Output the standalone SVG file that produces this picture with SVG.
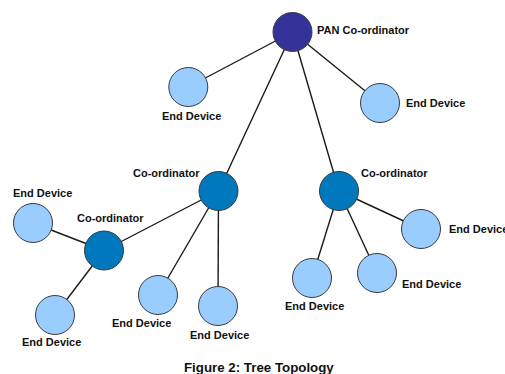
<svg xmlns="http://www.w3.org/2000/svg" width="505" height="374" viewBox="0 0 505 374">
  <style>
    .link { stroke: #1a1a1a; stroke-width: 1.4; fill: none; }
    .node { stroke: #3a3a3a; stroke-width: 1; }
    .pan { fill: #333399; }
    .coord { fill: #0078BD; }
    .end { fill: #99CCFF; }
    .lbl { font-family: "Liberation Sans", Arial, sans-serif; font-weight: bold; font-size: 11px; fill: #111; }
    .cap { font-family: "Liberation Sans", Arial, sans-serif; font-weight: bold; font-size: 13.3px; fill: #111; }
  </style>
  <rect width="505" height="374" fill="#ffffff"/>

  <!-- tree links, drawn centre to centre beneath the nodes -->
  <g id="connectors">
    <line class="link" x1="292.5" y1="32" x2="188.3" y2="87"/>
    <line class="link" x1="292.5" y1="32" x2="380" y2="103"/>
    <line class="link" x1="292.5" y1="32" x2="218.5" y2="191"/>
    <line class="link" x1="292.5" y1="32" x2="339" y2="191"/>
    <line class="link" x1="218.5" y1="191" x2="104" y2="250.5"/>
    <line class="link" x1="218.5" y1="191" x2="158" y2="295"/>
    <line class="link" x1="218.5" y1="191" x2="218" y2="306"/>
    <line class="link" x1="104" y1="250.5" x2="33" y2="223"/>
    <line class="link" x1="104" y1="250.5" x2="55" y2="315"/>
    <line class="link" x1="339" y1="191" x2="421" y2="229"/>
    <line class="link" x1="339" y1="191" x2="377" y2="273"/>
    <line class="link" x1="339" y1="191" x2="312" y2="278"/>
  </g>

  <g id="pan-coordinator">
    <circle class="node pan" cx="292.5" cy="32" r="19.5"/>
    <text class="lbl" x="317" y="33.5">PAN Co-ordinator</text>
  </g>

  <g id="end-device-1">
    <circle class="node end" cx="188.3" cy="87" r="19.5"/>
    <text class="lbl" x="162" y="120">End Device</text>
  </g>

  <g id="end-device-2">
    <circle class="node end" cx="380" cy="103" r="19.5"/>
    <text class="lbl" x="406" y="107">End Device</text>
  </g>

  <g id="coordinator-left">
    <circle class="node coord" cx="218.5" cy="191" r="19.5"/>
    <text class="lbl" x="133" y="177">Co-ordinator</text>
  </g>

  <g id="coordinator-right">
    <circle class="node coord" cx="339" cy="191" r="19.5"/>
    <text class="lbl" x="361" y="177">Co-ordinator</text>
  </g>

  <g id="coordinator-sub">
    <circle class="node coord" cx="104" cy="250.5" r="19.5"/>
    <text class="lbl" x="77" y="222">Co-ordinator</text>
  </g>

  <g id="end-device-3">
    <circle class="node end" cx="33" cy="223" r="19.5"/>
    <text class="lbl" x="13" y="197">End Device</text>
  </g>

  <g id="end-device-4">
    <circle class="node end" cx="55" cy="315" r="19.5"/>
    <text class="lbl" x="22" y="346">End Device</text>
  </g>

  <g id="end-device-5">
    <circle class="node end" cx="158" cy="295" r="19.5"/>
    <text class="lbl" x="112" y="327">End Device</text>
  </g>

  <g id="end-device-6">
    <circle class="node end" cx="218" cy="306" r="19.5"/>
    <text class="lbl" x="190" y="339">End Device</text>
  </g>

  <g id="end-device-7">
    <circle class="node end" cx="421" cy="229" r="19.5"/>
    <text class="lbl" x="449" y="233">End Device</text>
  </g>

  <g id="end-device-8">
    <circle class="node end" cx="377" cy="273" r="19.5"/>
    <text class="lbl" x="402" y="288">End Device</text>
  </g>

  <g id="end-device-9">
    <circle class="node end" cx="312" cy="278" r="19.5"/>
    <text class="lbl" x="285" y="310">End Device</text>
  </g>

  <text class="cap" x="184" y="371.5">Figure 2: Tree Topology</text>
</svg>
